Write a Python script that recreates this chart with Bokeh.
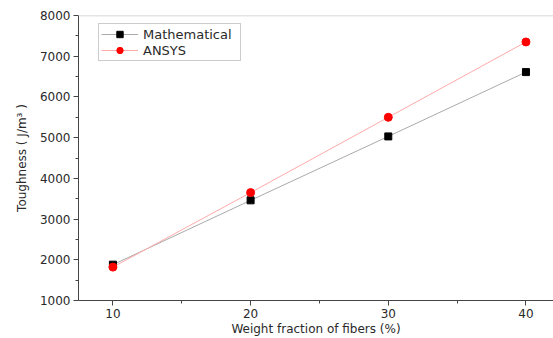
from bokeh.plotting import figure
from bokeh.models import FixedTicker, Range1d, Span, Legend, LegendItem
from bokeh.embed import file_html
from bokeh.resources import INLINE

weight_fraction = [10, 20, 30, 40]
mathematical = [1880, 3460, 5030, 6610]
ansys = [1820, 3650, 5500, 7350]
x_ticks = [10, 20, 30, 40]
x_minor = [15, 25, 35]
y_ticks = [1000, 2000, 3000, 4000, 5000, 6000, 7000, 8000]
y_minor = [1500, 2500, 3500, 4500, 5500, 6500, 7500]

FONT = "DejaVu Sans"
TXT = "#2a2a2a"
AX = "#444444"

p = figure(width=553, height=338, output_backend="svg", toolbar_location=None,
           x_range=Range1d(7.5, 42), y_range=Range1d(1000, 8000),
           min_border_left=78, min_border_right=0, min_border_top=15, min_border_bottom=38)
p.outline_line_color = None
p.xgrid.visible = False
p.ygrid.visible = False
p.background_fill_color = "white"
p.border_fill_color = "white"

p.add_layout(Span(location=8000, dimension="width", line_color="#cccccc", line_width=1.5))

for ax in (p.xaxis[0], p.yaxis[0]):
    ax.axis_line_color = AX
    ax.major_tick_line_color = AX
    ax.minor_tick_line_color = AX
    ax.major_tick_out = 5
    ax.major_tick_in = 0
    ax.minor_tick_out = 3
    ax.minor_tick_in = 0
    ax.major_label_text_font = FONT
    ax.major_label_text_font_size = "12px"
    ax.major_label_text_color = TXT
    ax.axis_label_text_font = FONT
    ax.axis_label_text_font_size = "12px"
    ax.axis_label_text_font_style = "normal"
    ax.axis_label_text_color = TXT

p.xaxis.ticker = FixedTicker(ticks=x_ticks, minor_ticks=x_minor)
p.yaxis.ticker = FixedTicker(ticks=y_ticks, minor_ticks=y_minor)
p.xaxis.major_label_standoff = 3
p.xaxis.axis_label_standoff = 1
p.yaxis.major_label_standoff = 3
p.yaxis.axis_label_standoff = 8
p.xaxis.axis_label = "Weight fraction of fibers (%)"
p.yaxis.axis_label = "Toughness ( J/m\u00b3 )"

l1 = p.line(weight_fraction, mathematical, line_color="#aaaaaa", line_width=1)
m1 = p.scatter(weight_fraction, mathematical, marker="square", size=7,
               fill_color="black", line_color="black")
l2 = p.line(weight_fraction, ansys, line_color="#ffaaaa", line_width=1)
m2 = p.scatter(weight_fraction, ansys, marker="circle", size=8,
               fill_color="red", line_color="red")

legend = Legend(items=[LegendItem(label="Mathematical", renderers=[l1, m1]),
                       LegendItem(label="ANSYS", renderers=[l2, m2])],
                location=(20, 239))
legend.border_line_color = "#999999"
legend.border_line_width = 1
legend.padding = 2
legend.margin = 0
legend.spacing = 0
legend.glyph_width = 37
legend.glyph_height = 16
legend.label_height = 16
legend.label_width = 95
legend.label_standoff = 5
legend.label_text_font = FONT
legend.label_text_font_size = "13px"
legend.label_text_color = TXT
legend.background_fill_color = "white"
p.add_layout(legend, "center")

open("out.html", "w").write(file_html(p, INLINE))
